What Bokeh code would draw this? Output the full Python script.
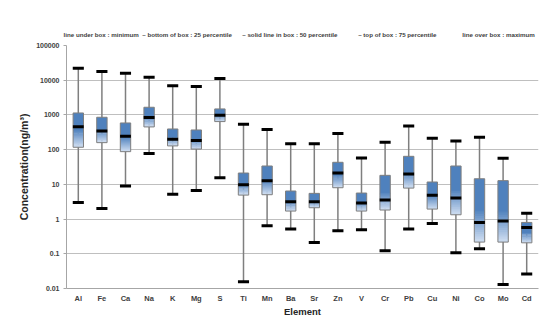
import math
from bokeh.plotting import figure
from bokeh.models import CustomJSTickFormatter, FixedTicker, ColumnDataSource
from bokeh.embed import file_html
from bokeh.resources import INLINE

elements = ["Al", "Fe", "Ca", "Na", "K", "Mg", "S", "Ti", "Mn", "Ba",
            "Sr", "Zn", "V", "Cr", "Pb", "Cu", "Ni", "Co", "Mo", "Cd"]
minimum = [3.0, 2.03, 8.96, 78, 5.15, 6.7, 15.6, 0.0156, 0.64, 0.52,
           0.21, 0.46, 0.49, 0.122, 0.52, 0.75, 0.107, 0.139, 0.013, 0.026]
q1 = [117, 159, 87.5, 451, 128, 104, 643, 4.9, 5.03, 1.70,
      2.12, 8.0, 1.70, 1.82, 7.8, 1.94, 1.33, 0.217, 0.217, 0.207]
median = [460, 345, 243, 838, 199, 182, 977, 9.8, 12.8, 3.16,
          3.16, 21.2, 2.9, 3.53, 19.9, 4.82, 4.03, 0.80, 0.875, 0.575]
q3 = [1140, 857, 587, 1663, 394, 369, 1490, 21.2, 33.8, 6.43,
      5.5, 43.2, 5.62, 18.2, 64.2, 11.7, 33.8, 14.5, 12.8, 0.80]
maximum = [22200, 17800, 15900, 12200, 6870, 6560, 11170, 538, 378, 149,
           149, 290, 57.5, 163, 482, 212, 178, 227, 56.2, 1.46]
y_ticks = [0.01, 0.1, 1, 10, 100, 1000, 10000, 100000]

legend_texts = ["line under box : minimum",
                "\u2013 bottom of box : 25 percentile",
                "\u2013 solid line in box : 50 percentile",
                "\u2013 top of box : 75 percentile",
                "line over box : maximum"]
legend_gaps = [2, 6, 12, 15]   # non-breaking spaces between the legend phrases

FONT = "Liberation Sans"
TXT = "#404040"

NB = "\u00a0"
legend_line = legend_texts[0]
for g, t in zip(legend_gaps, legend_texts[1:]):
    legend_line += NB * g + t

p = figure(x_range=elements, y_axis_type="log", y_range=(0.01, 100000),
           width=540, height=327, output_backend="svg", toolbar_location=None,
           min_border_left=66, min_border_right=2, min_border_top=45,
           min_border_bottom=39, title=legend_line)
p.title.align = "left"
p.title.offset = -3
p.title.standoff = 15
p.title.text_font = FONT
p.title.text_font_style = "bold"
p.title.text_font_size = "6.2px"
p.title.text_color = TXT

p.outline_line_color = None
p.background_fill_color = "white"
p.border_fill_color = "white"

# whiskers
src = ColumnDataSource(dict(x=elements, mn=minimum, q1=q1, med=median, q3=q3, mx=maximum))
p.segment(x0="x", y0="mn", x1="x", y1="mx", source=src, line_color="#7F7F7F", line_width=1.5)

# gradient-filled boxes (upper half solid, lower half fading)
dark = (79, 129, 189)
light = (205, 220, 240)
xs, tops, bots, cols = [], [], [], []
N = 14
for e, lo, hi in zip(elements, q1, q3):
    llo, lhi = math.log10(lo), math.log10(hi)
    mid = llo + 0.5 * (lhi - llo)
    step = (mid - llo) / N
    xs.append(e); tops.append(hi); bots.append(10 ** (mid - step * 0.5))
    cols.append("#%02x%02x%02x" % dark)
    for i in range(N):
        a = mid - step * i + step * 0.5 if i > 0 else mid - step * i
        b = mid - step * (i + 1)
        t = (i + 0.5) / N
        c = tuple(int(round(dark[k] + t * (light[k] - dark[k]))) for k in range(3))
        xs.append(e); tops.append(10 ** a); bots.append(10 ** b)
        cols.append("#%02x%02x%02x" % c)
p.vbar(x=xs, top=tops, bottom=bots, width=0.44, fill_color=cols, line_color=None)
p.vbar(x="x", top="q3", bottom="q1", source=src, width=0.44, fill_alpha=0,
       line_color="#7F7F7F", line_width=1)

# median and caps
p.rect(x="x", y="med", width=0.46, height=3, height_units="screen", source=src,
       fill_color="black", line_color=None)
p.rect(x="x", y="mn", width=0.47, height=3, height_units="screen", source=src,
       fill_color="black", line_color=None)
p.rect(x="x", y="mx", width=0.47, height=3, height_units="screen", source=src,
       fill_color="black", line_color=None)

# axes
p.yaxis.ticker = FixedTicker(ticks=y_ticks)
p.yaxis.formatter = CustomJSTickFormatter(code="return String(tick);")
p.yaxis.minor_tick_line_color = None
p.yaxis.major_tick_out = 3
p.yaxis.major_tick_in = 0
p.yaxis.major_tick_line_color = "#A6A6A6"
p.yaxis.axis_line_color = "#A6A6A6"
p.yaxis.major_label_standoff = 4
p.yaxis.major_label_text_font = FONT
p.yaxis.major_label_text_font_style = "bold"
p.yaxis.major_label_text_font_size = "7px"
p.yaxis.major_label_text_color = TXT
p.yaxis.axis_label = "Concentration(ng/m\u00b3)"
p.yaxis.axis_label_text_font = FONT
p.yaxis.axis_label_text_font_style = "bold"
p.yaxis.axis_label_text_font_size = "10.5px"
p.yaxis.axis_label_text_color = "#262626"
p.yaxis.axis_label_standoff = 3

p.xaxis.axis_line_color = "#A6A6A6"
p.xaxis.major_tick_line_color = None
p.xaxis.minor_tick_line_color = None
p.xaxis.major_tick_out = 0
p.xaxis.major_tick_in = 0
p.xaxis.major_label_standoff = 5
p.xaxis.major_label_text_font = FONT
p.xaxis.major_label_text_font_style = "bold"
p.xaxis.major_label_text_font_size = "7.5px"
p.xaxis.major_label_text_color = TXT
p.xaxis.axis_label = "Element"
p.xaxis.axis_label_text_font = FONT
p.xaxis.axis_label_text_font_style = "bold"
p.xaxis.axis_label_text_font_size = "9.5px"
p.xaxis.axis_label_text_color = "#262626"
p.xaxis.axis_label_standoff = 0

p.xgrid.grid_line_color = None
p.ygrid.grid_line_color = "#BFBFBF"
p.ygrid.grid_line_width = 1

open("out.html", "w").write(file_html(p, INLINE))
